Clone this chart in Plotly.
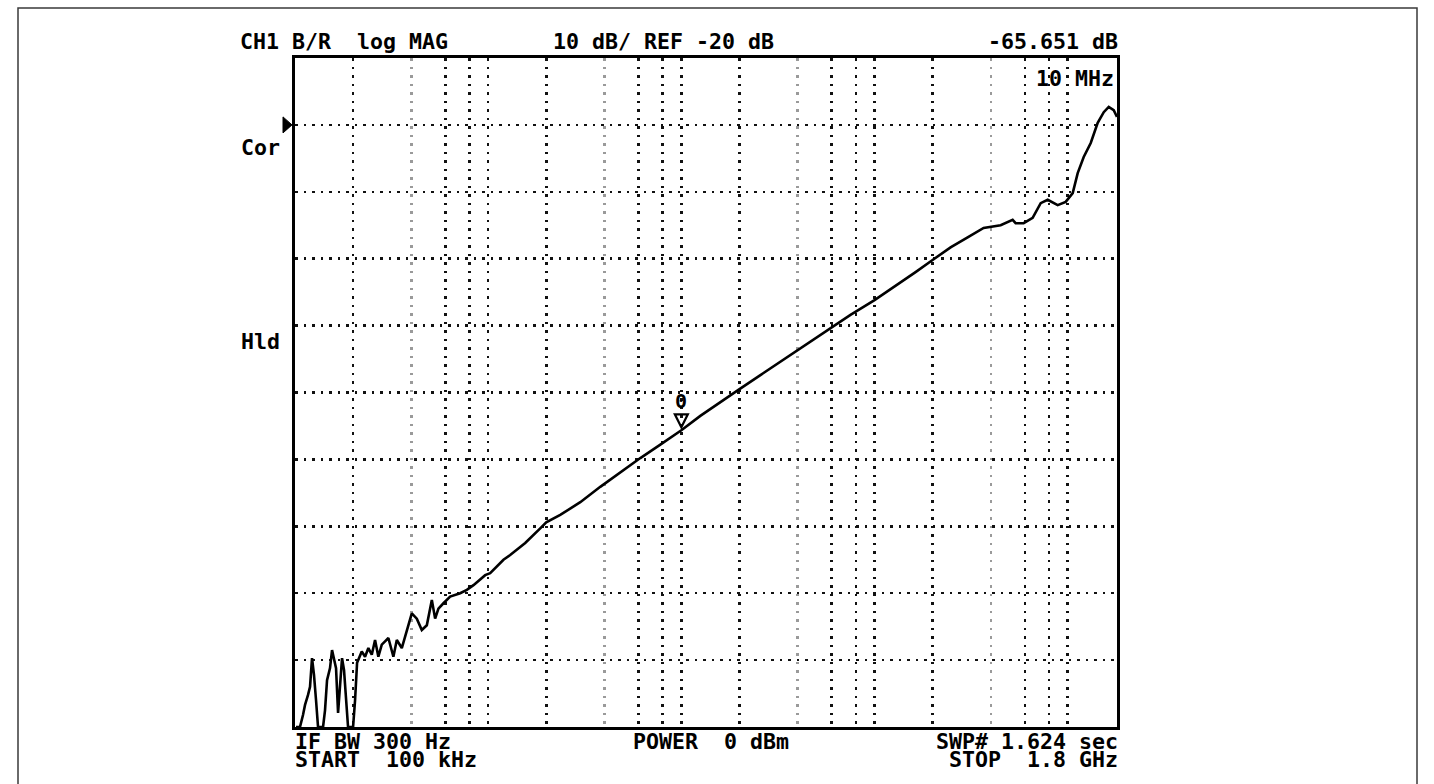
import math
import plotly.graph_objects as go

# ---- data (frequency in MHz, magnitude in dB) ----
freq_mhz = [
    0.1012, 0.1061, 0.1100, 0.1127, 0.1168, 0.1196, 0.1225, 0.1254, 0.1285, 0.1316,
    0.1397, 0.1430, 0.1465, 0.1518, 0.1555, 0.1592, 0.1631, 0.1671, 0.1711, 0.1752,
    0.1794, 0.1837, 0.1882, 0.1998, 0.2046, 0.2096,
    0.2128, 0.2216, 0.2305, 0.2398, 0.2497, 0.2597, 0.2701, 0.2813, 0.2926, 0.3044,
    0.3231, 0.3365, 0.3572, 0.3864, 0.4024, 0.4271, 0.4534, 0.4813, 0.5109, 0.5314,
    0.5527, 0.5867, 0.6356, 0.7160, 0.7756, 0.8391, 0.9090, 0.9649, 1.024, 1.109,
    1.200, 1.300, 1.555, 1.860, 1.998, 2.361, 2.998, 3.805, 4.830, 6.133, 7.785,
    10.0, 12.54, 15.93, 19.74, 25.66, 36.71, 46.61, 59.16, 75.09, 100.0,
    136.4, 163.1, 199.8, 247.6, 303.4, 367.1, 449.6, 518.8, 537.7, 591.6, 658.6,
    724.8, 787.9, 887.7, 976.3, 1061.5, 1126.8, 1210.4, 1316.0, 1430.0, 1537.0,
    1631.0, 1731.0, 1800.0,
]
mag_db = [
    -110.0, -110.0, -108.2, -106.7, -105.2, -104.0, -99.7, -102.2, -106.0, -110.0,
    -110.0, -107.5, -103.0, -101.2, -98.5, -100.0, -101.2, -107.9, -103.0, -99.7,
    -101.5, -106.0, -110.0, -110.0, -106.0, -100.4,
    -100.0, -98.7, -99.5, -98.2, -99.2, -97.0, -99.5, -97.7, -97.2, -96.7,
    -99.5, -97.0, -98.2, -95.0, -93.0, -93.8, -95.5, -94.8, -91.0, -93.8,
    -92.3, -91.5, -90.5, -90.0, -89.5, -88.8, -88.0, -87.3, -87.0, -86.0,
    -85.0, -84.3, -82.5, -80.3, -79.4, -78.3, -76.4, -74.1, -71.9, -69.8, -67.8,
    -65.651, -63.5, -61.4, -59.6, -57.4, -54.4, -52.5, -50.5, -48.4, -46.2,
    -43.6, -42.0, -40.2, -38.3, -36.8, -35.4, -35.0, -34.2, -34.7, -34.7, -33.9,
    -31.7, -31.2, -32.0, -31.5, -30.2, -27.2, -24.8, -22.7, -19.7, -18.1,
    -17.3, -17.8, -18.8,
]

marker_freq_mhz = 10.0
marker_db = -65.651
ref_db = -20

x_range_mhz = [0.1, 1800.0]
y_range_db = [-110, -10]
grid_major_mhz = [0.2, 0.6, 0.8, 1, 2, 6, 8, 10, 20, 60, 80, 100, 200, 600, 800, 1000]
grid_minor_mhz = [0.4, 4, 40, 400]
grid_db = [-100, -90, -80, -70, -60, -50, -40, -30, -20]

top_left_text = "CH1 B/R  log MAG"
top_mid_text = "10 dB/ REF -20 dB"
top_right_text = "-65.651 dB"
marker_label = "10 MHz"
marker_number = "0"
side_labels = ["Cor", "Hld"]
bottom_left_lines = ["IF BW 300 Hz", "START  100 kHz"]
bottom_mid_text = "POWER  0 dBm"
bottom_right_lines = ["SWP# 1.624 sec", "STOP  1.8 GHz"]

# ---- figure ----
W, H = 1434, 784
L, R, T, B = 295, 317, 58, 57
PW, PH = W - L - R, H - T - B

def px(xp):
    return (xp - L) / PW

def py(yp):
    return (H - B - yp) / PH

def nb(s):
    return s.replace(" ", "\u00a0")

FONT = dict(family="DejaVu Sans Mono", size=21.6, color="black", weight="bold")

fig = go.Figure()
fig.add_trace(go.Scatter(
    x=freq_mhz, y=mag_db, mode="lines",
    line=dict(color="black", width=2.6),
    hoverinfo="skip", showlegend=False,
))

ann = []
def text(t, x, y, xa, ya="middle", **kw):
    ann.append(dict(text=nb(t), x=x, y=y, xref="paper", yref="paper",
                    xanchor=xa, yanchor=ya, showarrow=False, font=FONT,
                    borderpad=0, **kw))

text(top_left_text, px(239), py(41), "left")
text(top_mid_text, px(552), py(41), "left")
text(top_right_text, px(1119), py(41), "right")
text(marker_label, px(1115), py(79), "right")
text(side_labels[0], px(240), py(147), "left")
text(side_labels[1], px(240), py(341), "left")
text(bottom_left_lines[0], px(294), py(741), "left")
text(bottom_left_lines[1], px(294), py(759), "left")
text(bottom_mid_text, px(632), py(741), "left")
text(bottom_right_lines[0], px(1119), py(741), "right")
text(bottom_right_lines[1], px(1119), py(759), "right")

# marker number above the marker triangle (annotation x on a log axis is log10)
ann.append(dict(text=marker_number, x=math.log10(marker_freq_mhz), y=marker_db,
                xref="x", yref="y",
                xanchor="center", yanchor="middle", showarrow=False, yshift=29,
                borderpad=0,
                font=dict(family="DejaVu Sans Mono", size=20, color="black", weight="bold")))

shapes = [
    # outer frame of the screenshot
    dict(type="rect", xref="paper", yref="paper",
         x0=px(18), x1=px(1417), y0=py(800), y1=py(8),
         line=dict(color="#3a3a3a", width=1.5), layer="below"),
    # reference-level pointer on the left edge
    dict(type="path", xref="paper", yref="y", xsizemode="pixel", ysizemode="pixel",
         xanchor=0, yanchor=ref_db,
         path="M -12,8 L -3,0 L -12,-8 Z",
         fillcolor="black", line=dict(color="black", width=1)),
    # marker triangle, tip on the trace
    dict(type="path", xref="x", yref="y", xsizemode="pixel", ysizemode="pixel",
         xanchor=marker_freq_mhz, yanchor=marker_db,
         path="M -6.5,16 L 6.5,16 L 0,3 Z",
         fillcolor="rgba(0,0,0,0)", line=dict(color="black", width=2.2)),
]

fig.update_layout(
    width=W, height=H,
    margin=dict(l=L, r=R, t=T, b=B, pad=0),
    paper_bgcolor="white", plot_bgcolor="white",
    annotations=ann, shapes=shapes,
)
fig.update_xaxes(
    type="log", range=[math.log10(v) for v in x_range_mhz],
    tickmode="array", tickvals=grid_major_mhz, showticklabels=False, ticks="",
    showgrid=True, gridcolor="#111111", gridwidth=2.5, griddash="2.5px,6px",
    minor=dict(tickmode="array", tickvals=grid_minor_mhz, showgrid=True,
               gridcolor="#9a9a9a", gridwidth=2.5, griddash="2.5px,6px", ticks=""),
    showline=True, mirror=True, linecolor="black", linewidth=3, zeroline=False,
)
fig.update_yaxes(
    range=y_range_db, tickmode="array", tickvals=grid_db, showticklabels=False, ticks="",
    showgrid=True, gridcolor="#111111", gridwidth=2.5, griddash="2.5px,6px",
    showline=True, mirror=True, linecolor="black", linewidth=3, zeroline=False,
)

fig.write_html("out.html", config={"displayModeBar": False, "staticPlot": True},
               post_script="document.body.style.margin='0px';document.body.style.overflow='hidden';")
